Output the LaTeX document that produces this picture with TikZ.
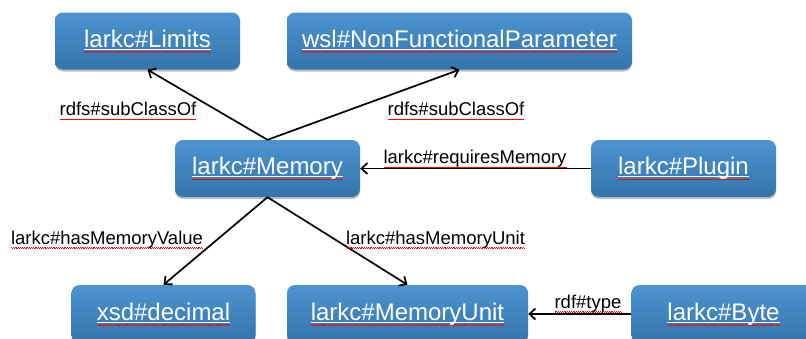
\documentclass[tikz,border=0pt]{standalone}
\usepackage{fontspec}
\setmainfont{Liberation Sans}
\usetikzlibrary{arrows.meta,shadows}

\definecolor{boxtop}{RGB}{76,148,208}
\definecolor{boxbot}{RGB}{52,116,172}

% spell-check wave under plain labels, white underline + wave in the boxes
\newsavebox\ulwordbox
\newcommand\wavefill{\xleaders\hbox{\rule[-3.4pt]{0.9pt}{0.6pt}\rule[-4.0pt]{0.9pt}{0.6pt}}\hfill}
\newcommand\wavy[1]{\sbox\ulwordbox{#1}\rlap{\textcolor{red}{\hbox to \wd\ulwordbox{\wavefill}}}\usebox\ulwordbox}
\newcommand\linkul[1]{\sbox\ulwordbox{#1}\rlap{\textcolor{white}{\rule[-2.6pt]{\wd\ulwordbox}{1.1pt}}}%
	\rlap{\textcolor{red}{\lower1.2pt\hbox to \wd\ulwordbox{\wavefill}}}\usebox\ulwordbox}

\tikzstyle{cls}=[rounded corners=8pt,top color=boxtop,bottom color=boxbot,
	text=white,minimum height=57pt,inner sep=0pt,
	font=\fontsize{24}{28}\selectfont,
	drop shadow={shadow xshift=0pt,shadow yshift=-2pt,opacity=0.25,fill=black}]
\tikzstyle{lbl}=[inner sep=0pt,font=\fontsize{18.5}{22}\selectfont]
\tikzstyle{arr}=[-{Straight Barb[length=6pt,width=11pt]},line width=1.7pt]

\begin{document}
\begin{tikzpicture}[x=1pt,y=-1pt]
	\useasboundingbox (0,0) rectangle (806,338);
	\clip (0,0) rectangle (806,338);
	
	\node[cls,minimum width=185pt] (lim) at (147.5,41) {\linkul{larkc\#Limits}};
	\node[cls,minimum width=345pt] (nfp) at (459.5,41) {\linkul{wsl\#NonFunctionalParameter}};
	\node[cls,minimum width=185pt] (mem) at (267.5,168.5) {\linkul{larkc\#Memory}};
	\node[cls,minimum width=185pt] (plg) at (683.5,168.5) {\linkul{larkc\#Plugin}};
	\node[cls,minimum width=184pt,minimum height=58pt] (dec) at (163.5,314) {\linkul{xsd\#decimal}};
	\node[cls,minimum width=241pt,minimum height=58pt] (unit) at (407.5,314) {\linkul{larkc\#MemoryUnit}};
	\node[cls,minimum width=184pt,minimum height=58pt] (byte) at (723.5,314) {\linkul{larkc\#Byte}};
	
	\draw[arr] (mem.north) -- (lim.south);
	\draw[arr] (mem.north) -- (nfp.south);
	\draw[arr] (plg.west) -- (mem.east);
	\draw[arr] (mem.south) -- (dec.north);
	\draw[arr] (mem.south) -- (unit.north);
	\draw[arr] (byte.west) -- (unit.east);
	
	\node[lbl] (sub1) at (128,111) {\wavy{rdfs\#subClassOf}};
	\node[lbl] (sub2) at (456,111) {\wavy{rdfs\#subClassOf}};
	\node[lbl] (req) at (475,159) {\wavy{larkc\#requiresMemory}};
	\node[lbl] (val) at (107,239.5) {\wavy{larkc\#hasMemoryValue}};
	\node[lbl] (hmu) at (435.5,239.5) {\wavy{larkc\#hasMemoryUnit}};
	\node[lbl] (typ) at (588,303.5) {\wavy{rdf\#type}};
\end{tikzpicture}
\end{document}
